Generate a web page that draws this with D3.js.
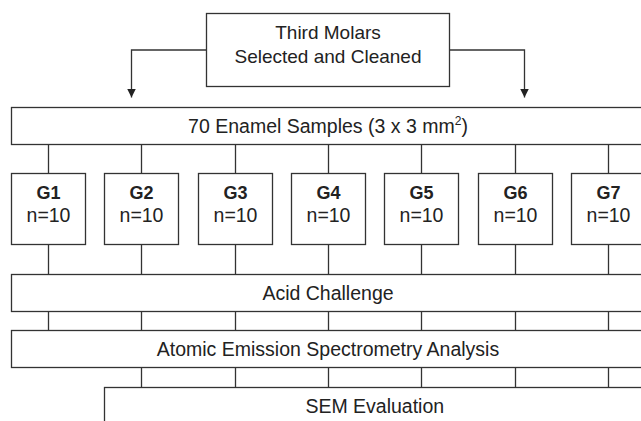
<!DOCTYPE html>
<html>
<head>
<meta charset="utf-8">
<script src="https://cdn.jsdelivr.net/npm/d3@7/dist/d3.min.js"></script>
<style>
  html, body { margin: 0; padding: 0; background: #fff; overflow: hidden; }
  svg { display: block; }
  text { font-family: "Liberation Sans", Arial, Helvetica, sans-serif; fill: #222; }
</style>
</head>
<body>
<svg id="chart" width="641" height="421"></svg>
<script>
// ---- data ----
const topLabel = ["Third Molars", "Selected and Cleaned"];
const sampleCount = 70;
const sampleSize = "3 x 3 mm";
const groups = ["G1", "G2", "G3", "G4", "G5", "G6", "G7"];
const groupN = [10, 10, 10, 10, 10, 10, 10];
const stages = ["Acid Challenge", "Atomic Emission Spectrometry Analysis", "SEM Evaluation"];
const semGroups = ["G2", "G3", "G4", "G5", "G6", "G7"];

// ---- layout ----
const svg = d3.select("#chart");
const stroke = "#333";
const sw = 1.3;
const fs = 19.5;
const fsTop = 19;
const fsG = 18;

const x = d3.scalePoint().domain(groups).range([48, 608]);
const boxW = 74;
const barLeft = x(groups[0]) - boxW / 2;
const barRight = x(groups[groups.length - 1]) + boxW / 2;

const rows = {
  top: [13.5, 86.5],
  enamel: [107.5, 144.5],
  groups: [173.5, 244.5],
  acid: [274.5, 311.5],
  aes: [330.5, 367.5],
  sem: [387.5, 430]
};

function rect(x0, x1, y0, y1) {
  svg.append("rect")
    .attr("x", x0).attr("y", y0)
    .attr("width", x1 - x0).attr("height", y1 - y0)
    .attr("fill", "#fff").attr("stroke", stroke).attr("stroke-width", sw);
}
function line(x0, y0, x1, y1) {
  svg.append("line")
    .attr("x1", x0).attr("y1", y0).attr("x2", x1).attr("y2", y1)
    .attr("stroke", stroke).attr("stroke-width", sw);
}

// arrow marker
svg.append("defs").append("marker")
  .attr("id", "arr").attr("viewBox", "0 0 10 10")
  .attr("refX", 10).attr("refY", 5)
  .attr("markerUnits", "userSpaceOnUse")
  .attr("markerWidth", 9).attr("markerHeight", 9)
  .attr("orient", "auto")
  .append("path").attr("d", "M0,0 L10,5 L0,10 Z").attr("fill", "#222");

// ---- connectors ----
const mid = (rows.top[0] + rows.top[1]) / 2;
const topLeft = 206.5, topRight = 449.5;
const arrowXL = 131.5, arrowXR = 524.5;
svg.append("path")
  .attr("d", `M${topLeft},${mid} H${arrowXL} V${rows.enamel[0] - 10}`)
  .attr("fill", "none").attr("stroke", stroke).attr("stroke-width", sw)
  .attr("marker-end", "url(#arr)");
svg.append("path")
  .attr("d", `M${topRight},${mid} H${arrowXR} V${rows.enamel[0] - 10}`)
  .attr("fill", "none").attr("stroke", stroke).attr("stroke-width", sw)
  .attr("marker-end", "url(#arr)");

groups.forEach(g => {
  const cx = Math.round(x(g)) + 0.5;
  line(cx, rows.enamel[1], cx, rows.groups[0]);
  line(cx, rows.groups[1], cx, rows.acid[0]);
  line(cx, rows.acid[1], cx, rows.aes[0]);
});
semGroups.forEach(g => {
  const cx = Math.round(x(g)) + 0.5;
  line(cx, rows.aes[1], cx, rows.sem[0]);
});

// ---- boxes ----
rect(topLeft, topRight, rows.top[0], rows.top[1]);
const cTop = (topLeft + topRight) / 2;
svg.append("text").attr("x", cTop).attr("y", 38.5)
  .attr("text-anchor", "middle").attr("font-size", fsTop).text(topLabel[0]);
svg.append("text").attr("x", cTop).attr("y", 63)
  .attr("text-anchor", "middle").attr("font-size", fsTop).text(topLabel[1]);

rect(barLeft + 0.5, barRight + 0.5, rows.enamel[0], rows.enamel[1]);
const cBar = (barLeft + barRight) / 2;
const t = svg.append("text").attr("x", cBar).attr("y", (rows.enamel[0] + rows.enamel[1]) / 2 + 6.8)
  .attr("text-anchor", "middle").attr("font-size", fs);
t.append("tspan").text(`${sampleCount} Enamel Samples (${sampleSize}`);
t.append("tspan").attr("font-size", 12).attr("dy", -8).text("2");
t.append("tspan").attr("dy", 8).text(")");

groups.forEach((g, i) => {
  const cx = Math.round(x(g)) + 0.5;
  rect(cx - boxW / 2, cx + boxW / 2, rows.groups[0], rows.groups[1]);
  svg.append("text").attr("x", cx).attr("y", 198.5)
    .attr("text-anchor", "middle").attr("font-size", fsG).attr("font-weight", "bold").text(g);
  svg.append("text").attr("x", cx).attr("y", 221.5)
    .attr("text-anchor", "middle").attr("font-size", fs).text(`n=${groupN[i]}`);
});

rect(barLeft + 0.5, barRight + 0.5, rows.acid[0], rows.acid[1]);
svg.append("text").attr("x", cBar).attr("y", (rows.acid[0] + rows.acid[1]) / 2 + 6.8)
  .attr("text-anchor", "middle").attr("font-size", fs).text(stages[0]);

rect(barLeft + 0.5, barRight + 0.5, rows.aes[0], rows.aes[1]);
svg.append("text").attr("x", cBar).attr("y", (rows.aes[0] + rows.aes[1]) / 2 + 6.8)
  .attr("text-anchor", "middle").attr("font-size", fs).text(stages[1]);

const semLeft = Math.round(x(semGroups[0])) + 0.5 - boxW / 2;
rect(semLeft, barRight + 0.5, rows.sem[0], rows.sem[1]);
svg.append("text").attr("x", (semLeft + barRight) / 2).attr("y", rows.sem[0] + 18.3 + 6.8)
  .attr("text-anchor", "middle").attr("font-size", fs).text(stages[2]);
</script>
</body>
</html>
